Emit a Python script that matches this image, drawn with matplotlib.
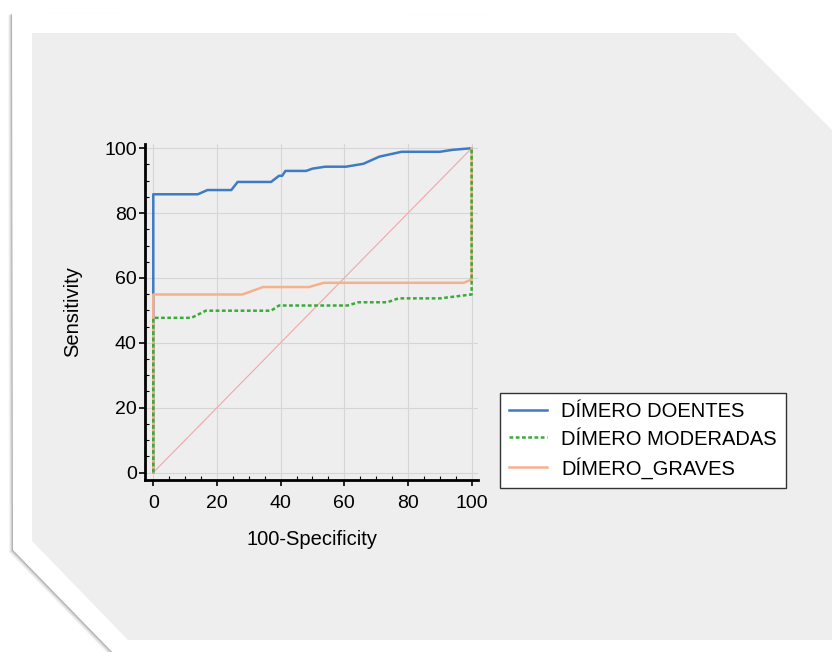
import numpy as np
import matplotlib.pyplot as plt
from matplotlib.patches import Polygon

plt.rcParams['font.family'] = ['Liberation Sans', 'DejaVu Sans']

# ROC curves
doentes_x = [0, 0, 14, 17, 24.5, 26.5, 37, 39.5, 40.5, 41.5, 48, 50, 54, 60.5, 66, 71, 78, 90, 94, 100]
doentes_y = [0, 85.8, 85.8, 87.1, 87.1, 89.6, 89.6, 91.5, 91.5, 93, 93, 93.7, 94.3, 94.3, 95.2, 97.4, 98.9, 98.9, 99.5, 100]
moderadas_x = [0, 0, 12, 16.5, 37, 39.5, 61, 64.5, 73.5, 77, 90, 100, 100]
moderadas_y = [0, 47.7, 47.7, 49.9, 49.9, 51.5, 51.5, 52.5, 52.5, 53.7, 53.7, 54.9, 100]
graves_x = [0, 0, 28, 34.5, 49, 53.5, 97.5, 100, 100]
graves_y = [0, 54.9, 54.9, 57.2, 57.2, 58.5, 58.5, 59.5, 100]
labels = ['DÍMERO DOENTES', 'DÍMERO MODERADAS', 'DÍMERO_GRAVES']
ticks = [0, 20, 40, 60, 80, 100]

fig = plt.figure(figsize=(8.4, 6.52), dpi=100, facecolor='white')

# decorative frame drawn in pixel coordinates
bg = fig.add_axes([0, 0, 1, 1], zorder=0)
bg.set_xlim(0, 840)
bg.set_ylim(652, 0)
bg.axis('off')
outer = [(12, 13), (742, 15), (845, 118), (845, 660), (120, 660), (13, 550)]
for k, a in enumerate([0.04, 0.06, 0.09, 0.15]):
    d = 4 - k
    sh = [(x - d, y + d * 0.6) for x, y in outer]
    bg.add_patch(Polygon(sh, closed=True, facecolor='black', edgecolor='none', alpha=a))
bg.add_patch(Polygon(outer, closed=True, facecolor='white', edgecolor='none'))
inner = [(32, 33), (735, 33), (832, 130), (832, 640), (128, 640), (32, 541)]
bg.add_patch(Polygon(inner, closed=True, facecolor='#eeeeee', edgecolor='none'))

ax = fig.add_axes([145 / 840, 1 - 480 / 652, 333 / 840, 336 / 652], zorder=1)
ax.set_facecolor('none')
ax.set_xlim(-2.6, 102)
ax.set_ylim(-2.3, 101.3)

ax.plot([0, 100], [0, 100], color='#f2a7a7', lw=0.8, zorder=2)
l1, = ax.plot(doentes_x, doentes_y, color='#3d7cc4', lw=1.8, zorder=3)
l3, = ax.plot(graves_x, graves_y, color='#f7b08c', lw=1.8, zorder=4)
l2, = ax.plot(moderadas_x, moderadas_y, color='#3aaa3a', lw=1.8, ls=(0, (1.5, 1)), zorder=5)

ax.set_xticks(ticks)
ax.set_yticks(ticks)
ax.set_xticks(np.arange(0, 101, 5), minor=True)
ax.set_yticks(np.arange(0, 101, 5), minor=True)
ax.grid(True, color='#d6d6d6', lw=0.8)
ax.tick_params(which='major', direction='out', length=4, width=1.2, labelsize=14, colors='black')
ax.tick_params(axis='x', which='major', pad=7)
ax.tick_params(axis='y', which='major', pad=2)
ax.tick_params(which='minor', direction='in', length=3, width=0.8)
for s in ['top', 'right']:
    ax.spines[s].set_visible(False)
for s in ['left', 'bottom']:
    ax.spines[s].set_linewidth(2)

ax.set_xlabel('100-Specificity', fontsize=14.5, labelpad=13)
ax.set_ylabel('Sensitivity', fontsize=14.5, labelpad=16)

leg = fig.legend([l1, l2, l3], labels, loc='upper left',
                 bbox_to_anchor=(500 / 840, 1 - 393 / 652), fontsize=14.5,
                 fancybox=False, framealpha=1, edgecolor='#333333',
                 handlelength=1.9, handletextpad=0.7, labelspacing=0.42,
                 borderpad=0.45, borderaxespad=0)
leg.get_frame().set_linewidth(1.0)

fig.savefig('out.png', dpi=100)
